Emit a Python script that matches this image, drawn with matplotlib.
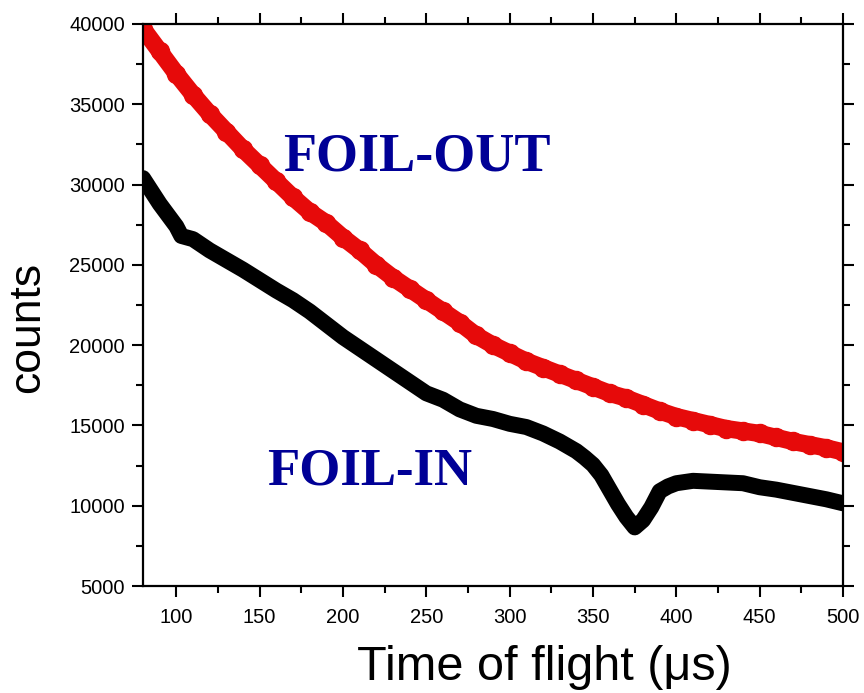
import matplotlib
matplotlib.use("Agg")
import matplotlib.pyplot as plt
from matplotlib.ticker import MultipleLocator

# FOIL-OUT (red)
t_out = [80, 90, 100, 110, 120, 130, 140, 150, 160, 170, 180, 190, 200, 210, 220,
         230, 240, 250, 260, 270, 280, 290, 300, 310, 320, 330, 340, 350, 360, 370,
         380, 390, 400, 410, 420, 430, 440, 450, 460, 470, 480, 490, 500]
c_out = [39700, 38300, 36900, 35600, 34400, 33300, 32200, 31200, 30200, 29200,
         28300, 27600, 26700, 25900, 25000, 24200, 23500, 22800, 22100, 21400,
         20600, 20000, 19500, 19000, 18600, 18200, 17800, 17400, 17000, 16700,
         16300, 15900, 15550, 15300, 15050, 14800, 14650, 14500, 14250, 14000,
         13800, 13600, 13350]

# FOIL-IN (black)
t_in = [80, 90, 100, 103, 110, 120, 130, 140, 150, 160, 170, 180, 190, 200, 210,
        220, 230, 240, 250, 260, 270, 280, 290, 300, 310, 320, 330, 340, 345, 350,
        355, 360, 365, 370, 375, 380, 385, 390, 395, 400, 410, 420, 430, 440, 450,
        460, 470, 480, 490, 500]
c_in = [30400, 28800, 27400, 26800, 26600, 25900, 25300, 24700, 24050, 23400,
        22800, 22100, 21300, 20500, 19800, 19100, 18400, 17700, 17000, 16600,
        16000, 15600, 15400, 15100, 14900, 14500, 14000, 13400, 13000, 12550,
        11900, 11000, 10100, 9300, 8650, 9100, 9900, 10900, 11200, 11400, 11550,
        11500, 11450, 11400, 11150, 11000, 10800, 10600, 10400, 10150]

x_ticks = [100, 150, 200, 250, 300, 350, 400, 450, 500]
y_ticks = [5000, 10000, 15000, 20000, 25000, 30000, 35000, 40000]

fig = plt.figure(figsize=(8.64, 6.93), dpi=100)
ax = fig.add_axes([0.1655, 0.1544, 0.9757 - 0.1655, 0.9654 - 0.1544])

ax.plot(t_out, c_out, color='#e60a0a', lw=12.5, marker='o', ms=13,
        solid_capstyle='round', solid_joinstyle='round')
ax.plot(t_in, c_in, color='black', lw=11.5, solid_capstyle='round',
        solid_joinstyle='round')

ax.set_xlim(80, 500)
ax.set_ylim(5000, 40000)
ax.set_xticks(x_ticks)
ax.set_yticks(y_ticks)
ax.xaxis.set_minor_locator(MultipleLocator(25))
ax.yaxis.set_minor_locator(MultipleLocator(2500))

for s in ax.spines.values():
    s.set_linewidth(1.6)

ax.tick_params(which='both', direction='out', top=True, right=True, width=1.5)
ax.tick_params(which='major', length=8)
ax.tick_params(which='minor', length=5)
ax.tick_params(axis='x', which='major', pad=8)
ax.tick_params(axis='y', which='major', pad=5)
for lab in ax.get_xticklabels() + ax.get_yticklabels():
    lab.set_fontfamily('Liberation Sans')
    lab.set_fontsize(14.5)

ax.set_xlabel('Time of flight (\u03bcs)', fontsize=35, family='Liberation Sans')
ax.set_ylabel('counts', fontsize=32, family='Liberation Sans')
ax.xaxis.set_label_coords(0.574, -0.105)
ax.yaxis.set_label_coords(-0.135, 0.46)

ax.text(164, 30845, 'FOIL-OUT', family='Liberation Serif', weight='bold',
        fontsize=39, color='#000096', ha='left', va='baseline')
ax.text(154.4, 11290, 'FOIL-IN', family='Liberation Serif', weight='bold',
        fontsize=38, color='#000096', ha='left', va='baseline')

fig.savefig('out.png', dpi=100)
